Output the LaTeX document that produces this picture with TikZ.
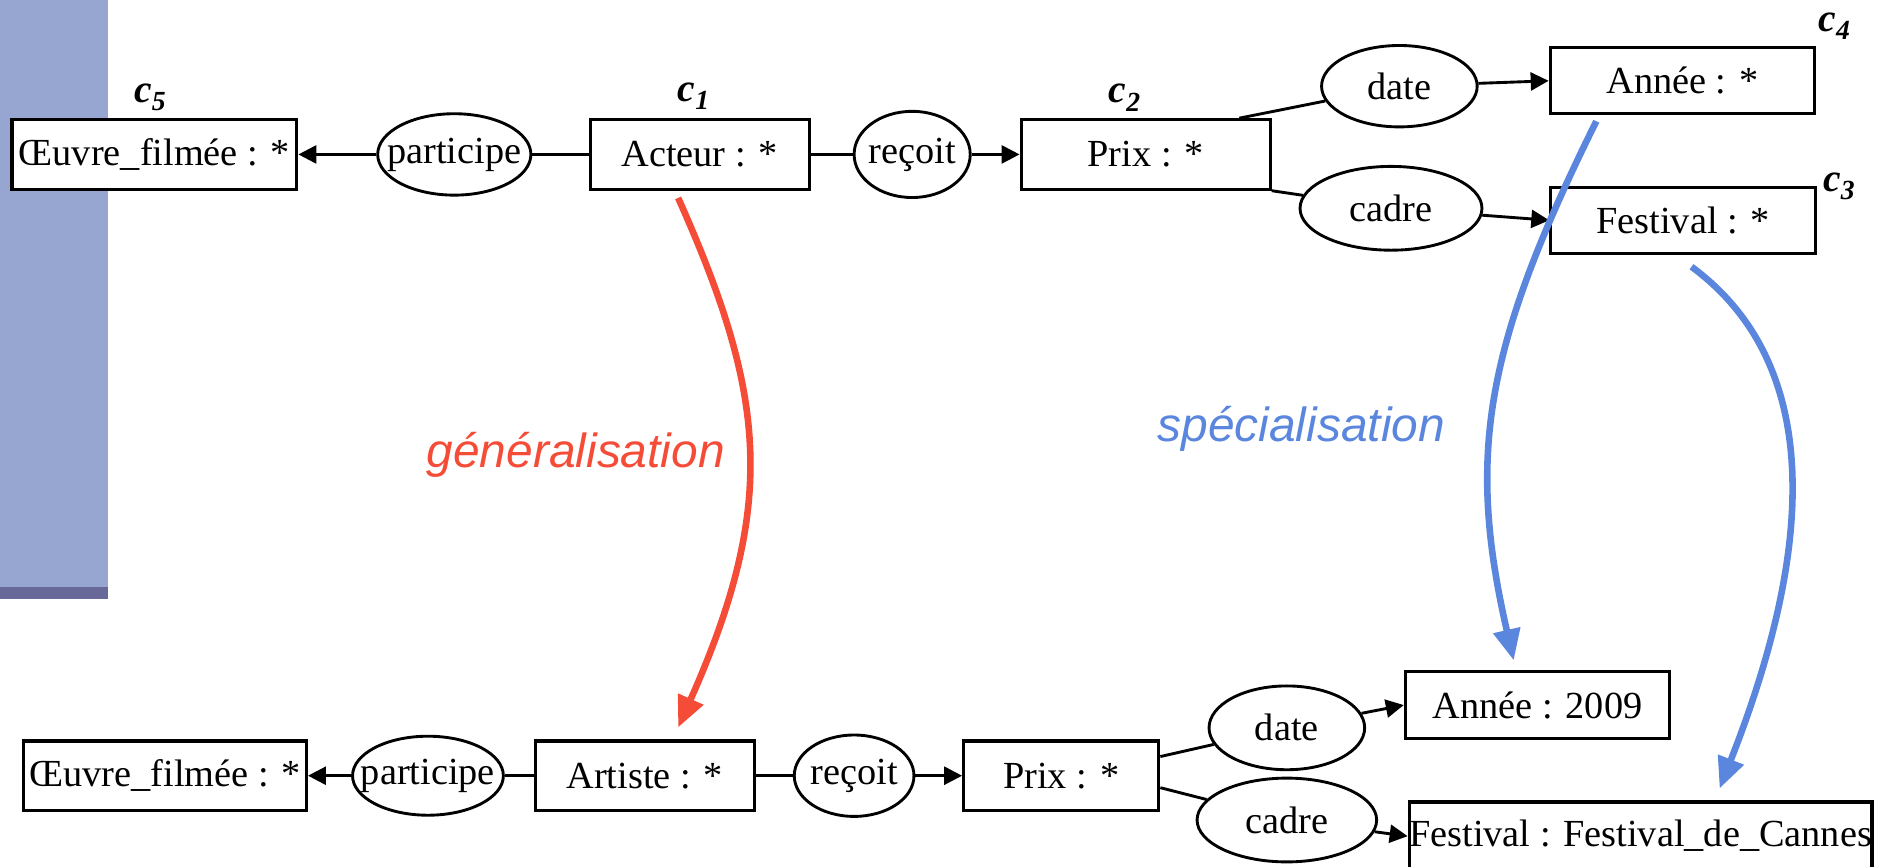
\documentclass[tikz,border=0pt]{standalone}
\usepackage{fontspec}
\setmainfont{Liberation Serif}
\newfontfamily\slabfont{Liberation Sans}
\usetikzlibrary{shapes,positioning,calc,arrows.meta}
\definecolor{genred}{RGB}{245,76,56}
\definecolor{specblue}{RGB}{91,134,221}
\definecolor{panel}{RGB}{151,166,209}
\definecolor{paneldark}{RGB}{104,105,152}
\newcommand{\rl}[1]{\makebox[0pt]{#1}}
\newcommand{\cname}[1]{c\textsubscript{#1}}

\begin{document}
\begin{tikzpicture}[x=1pt, y=-1pt,
        box/.style={draw, rectangle, fill=white, minimum height=58pt, inner sep=0pt, line width=2.6pt, font=\fontsize{32}{36}\selectfont},
        rel/.style={draw, ellipse, fill=white, minimum height=68pt, inner sep=0pt, line width=2.4pt, font=\fontsize{32}{36}\selectfont},
        clab/.style={anchor=base west, inner sep=0pt, font=\fontsize{33}{36}\selectfont\bfseries\itshape},
        lab/.style={font=\fontsize{40}{44}\slabfont\itshape},
        link/.style={line width=2.4pt},
        arr/.style={line width=2.4pt, -{Triangle[length=15pt,width=15pt]}},
        big/.style={line width=5.5pt, -{Triangle[length=26pt,width=22pt]}}
    ]
        \useasboundingbox (0,0) rectangle (1568,724);
        \fill[panel] (0,0) rectangle (90,490);
        \fill[paneldark] (0,490) rectangle (90,500);

        \node [box, minimum width=238pt] (oeuvreA) at (129,129) {Œuvre\_filmée : *};
        \node [rel, minimum width=128pt, right=65pt of oeuvreA] (partA) {\rl{participe}};
        \node [box, minimum width=183pt, right=47pt of partA] (acteur) {Acteur : *};
        \node [rel, minimum width=97pt, minimum height=72pt, right=35pt of acteur] (recoitA) {\rl{reçoit}};
        \node [box, minimum width=208pt, right=40pt of recoitA] (prixA) {Prix : *};
        \node [rel, minimum width=130pt] (dateA) at (1169,72) {\rl{date}};
        \node [box, minimum width=221pt, minimum height=55pt] (anneeA) at (1405.5,67.5) {Année : *};
        \node [rel, minimum width=152pt, minimum height=70pt] (cadreA) at (1162,174) {\rl{cadre}};
        \node [box, minimum width=221pt, minimum height=55pt] (festA) at (1406,184) {Festival : *};

        \node [clab] (c5) at (112,86) {\cname{5}};
        \node [clab] (c1) at (566,85) {\cname{1}};
        \node [clab] (c2) at (926,86) {\cname{2}};
        \node [clab] (c4) at (1519,26) {\cname{4}};
        \node [clab] (c3) at (1523,160) {\cname{3}};

        \node [box, minimum width=236pt] (oeuvreB) at (138,648) {Œuvre\_filmée : *};
        \node [rel, minimum width=126pt, minimum height=66pt, right=36pt of oeuvreB] (partB) {\rl{participe}};
        \node [box, minimum width=183pt, right=24pt of partB] (artiste) {Artiste : *};
        \node [rel, minimum width=100pt, right=31pt of artiste] (recoitB) {\rl{reçoit}};
        \node [box, minimum width=163pt, right=39pt of recoitB] (prixB) {Prix : *};
        \node [rel, minimum width=130pt, minimum height=70pt] (dateB) at (1075,608) {\rl{date}};
        \node [box, minimum width=221pt, minimum height=56pt] (anneeB) at (1284.5,589) {Année : 2009};
        \node [rel, minimum width=150pt, minimum height=70pt] (cadreB) at (1075,685) {\rl{cadre}};
        \node [box, minimum width=385pt, minimum height=57pt] (cannes) at (1370.5,698.5) {Festival : Festival\_de\_Cannes};

        \draw [arr] (partA) -- (oeuvreA);
        \draw [link] (partA) -- (acteur);
        \draw [link] (acteur) -- (recoitA);
        \draw [arr] (recoitA) -- (prixA);
        \draw [link] ($(prixA.north east)+(-27,0)$) -- (dateA);
        \draw [arr] (dateA) -- (anneeA.west);
        \draw [link] (prixA.south east) -- (cadreA);
        \draw [arr] (cadreA) -- (festA.west);

        \draw [arr] (partB) -- (oeuvreB);
        \draw [link] (partB) -- (artiste);
        \draw [link] (artiste) -- (recoitB);
        \draw [arr] (recoitB) -- (prixB);
        \draw [link] ($(prixB.east)+(0,-16)$) -- (dateB);
        \draw [arr] (dateB) -- (anneeB.west);
        \draw [link] ($(prixB.east)+(0,10)$) -- (cadreB);
        \draw [arr] (cadreB) -- (cannes.west);

        \coordinate (genS) at ($(acteur.south)+(-18,6)$);
        \coordinate (genE) at ($(artiste.north)+(28,-10)$);
        \coordinate (specS1) at ($(anneeA.south)+(-72,5)$);
        \coordinate (specE1) at ($(anneeB.north)+(-20,-8)$);
        \coordinate (specS2) at ($(festA.south)+(7,10)$);
        \coordinate (specE2) at ($(cannes.north)+(66,-10)$);

        \draw [big, genred] (genS) .. controls (640,330) and (650,420) .. (genE);
        \draw [big, specblue] (specS1) .. controls (1240,290) and (1225,380) .. (specE1);
        \draw [big, specblue] (specS2) .. controls (1545,320) and (1495,510) .. (specE2);

        \node [lab, text=genred] (gen) at (481,380) {généralisation};
        \node [lab, text=specblue] (spec) at (1087,358) {spécialisation};
    \end{tikzpicture}
\end{document}
